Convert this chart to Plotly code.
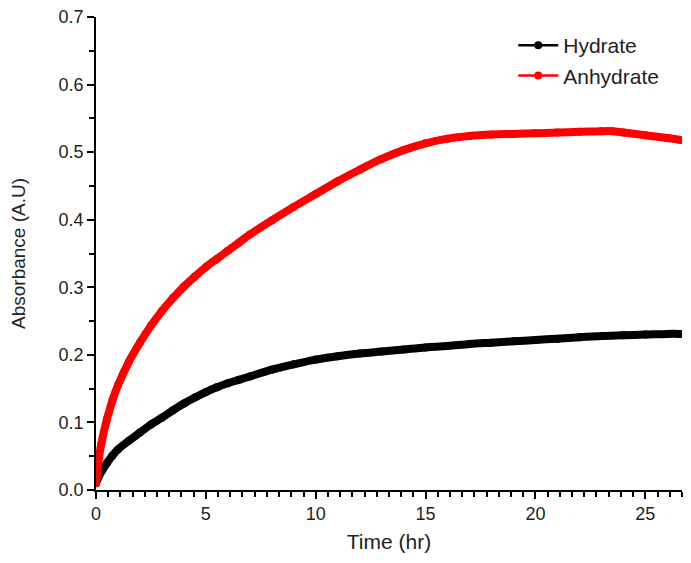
import plotly.graph_objects as go

# Hydrate absorbance vs time
hyd_t = [0, 0.1, 0.3, 0.5, 0.75, 1.0, 1.5, 2.0, 2.5, 3.0, 3.5, 4.0, 4.5, 5.0, 5.5, 6.0,
         6.5, 7.0, 8.0, 9.0, 10.0, 11.0, 12.0, 13.0, 14.0, 15.0, 16.0, 17.0, 18.0, 19.0,
         20.0, 21.0, 22.0, 23.0, 24.0, 25.0, 26.0, 26.6]
hyd_abs = [0.010, 0.018, 0.030, 0.040, 0.051, 0.060, 0.073, 0.085, 0.097, 0.107, 0.118,
           0.128, 0.137, 0.145, 0.152, 0.158, 0.163, 0.168, 0.178, 0.186, 0.193, 0.198,
           0.202, 0.205, 0.208, 0.211, 0.213, 0.216, 0.218, 0.220, 0.222, 0.224, 0.226,
           0.228, 0.229, 0.230, 0.231, 0.231]

# Anhydrate absorbance vs time
anh_t = [0, 0.1, 0.25, 0.5, 0.75, 1.0, 1.5, 2.0, 2.5, 3.0, 3.5, 4.0, 4.5, 5.0, 5.5, 6.0,
         6.5, 7.0, 8.0, 9.0, 10.0, 11.0, 12.0, 13.0, 14.0, 15.0, 16.0, 17.0, 18.0, 19.0,
         20.0, 21.0, 22.0, 23.0, 23.5, 24.0, 25.0, 26.0, 26.6]
anh_abs = [0.010, 0.040, 0.070, 0.105, 0.133, 0.155, 0.190, 0.218, 0.243, 0.265, 0.284,
           0.301, 0.316, 0.330, 0.342, 0.354, 0.366, 0.378, 0.399, 0.419, 0.438, 0.457,
           0.474, 0.490, 0.503, 0.513, 0.520, 0.524, 0.526, 0.527, 0.528, 0.529, 0.530,
           0.531, 0.531, 0.529, 0.525, 0.521, 0.518]

FONT = "Liberation Sans, Arial, sans-serif"

fig = go.Figure()
fig.add_scatter(x=hyd_t, y=hyd_abs, mode="lines+markers", line=dict(color="black", width=8, shape="spline"),
                marker=dict(color="black", size=8), showlegend=False)
fig.add_scatter(x=anh_t, y=anh_abs, mode="lines+markers", line=dict(color="#ff0000", width=8, shape="spline"),
                marker=dict(color="#ff0000", size=8), showlegend=False)
# legend entries (thin line with dot, like the original)
fig.add_scatter(x=[None], y=[None], mode="lines+markers", name="Hydrate",
                line=dict(color="black", width=2.5), marker=dict(color="black", size=8))
fig.add_scatter(x=[None], y=[None], mode="lines+markers", name="Anhydrate",
                line=dict(color="#ff0000", width=2.5), marker=dict(color="#ff0000", size=8))

# page body has an 8px margin, so the figure is sized 8px smaller than the window
fig.update_layout(
    width=683, height=555,
    margin=dict(l=88, r=9, t=9, b=73),
    plot_bgcolor="white", paper_bgcolor="white",
    font=dict(family=FONT, color="#222222"),
    legend=dict(x=0.712, y=0.983, xanchor="left", yanchor="top", bgcolor="rgba(0,0,0,0)",
                font=dict(size=21), tracegroupgap=0, itemwidth=40),
)
fig.update_xaxes(
    range=[0, 26.67], showgrid=False, zeroline=False, automargin=False,
    showline=True, linecolor="black", linewidth=1.5,
    ticks="outside", ticklen=7, tickwidth=1.5, tickcolor="black",
    tick0=0, dtick=5, tickfont=dict(size=18),
    minor=dict(ticks="outside", ticklen=5, tickwidth=1.5, tickcolor="black", tick0=0, dtick=5 / 9),
    title=dict(text="Time (hr)", font=dict(size=21), standoff=11),
)
fig.update_yaxes(
    range=[0, 0.7], showgrid=False, zeroline=False, automargin=False,
    showline=True, linecolor="black", linewidth=1.5,
    ticks="outside", ticklen=7, tickwidth=1.5, tickcolor="black",
    tick0=0, dtick=0.1, tickformat=".1f", tickfont=dict(size=18),
    ticklabeloverflow="allow",
    minor=dict(ticks="outside", ticklen=5, tickwidth=1.5, tickcolor="black", dtick=0.05),
    title=dict(text="Absorbance (A.U)", font=dict(size=19), standoff=30),
)

fig.write_html("out.html")
